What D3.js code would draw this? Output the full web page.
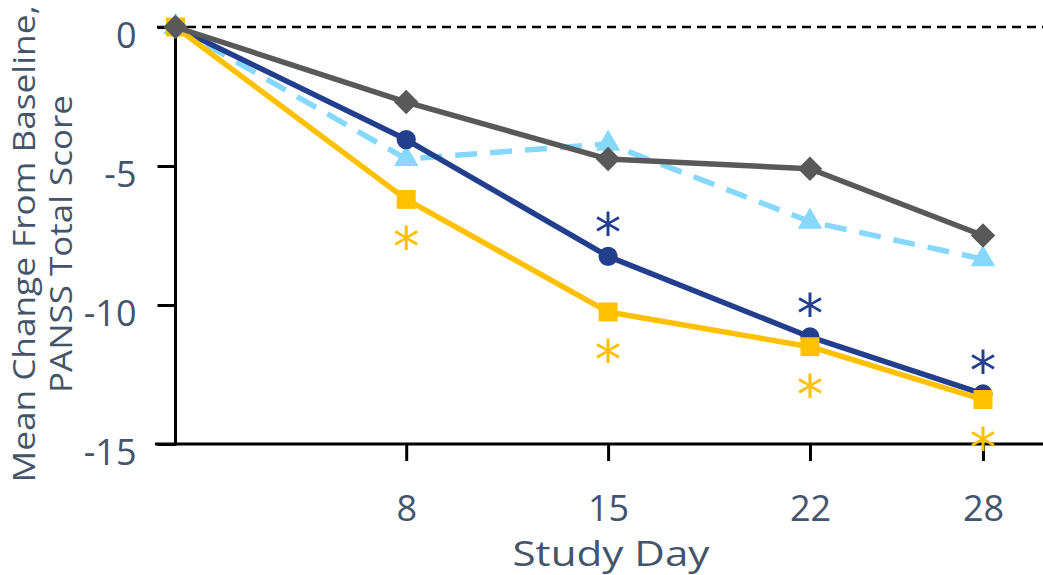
<!DOCTYPE html>
<html>
<head>
<meta charset="utf-8">
<script src="https://cdn.jsdelivr.net/npm/d3@7"></script>
<style>
  html, body { margin: 0; padding: 0; background: #ffffff; }
  svg { display: block; }
  text { font-family: "Open Sans", "DejaVu Sans", sans-serif; fill: #44546a; }
</style>
</head>
<body>
<svg id="chart" width="1043" height="575"></svg>
<script>
// Study days on the x axis and tick settings
const days = [0, 8, 15, 22, 28];
const xTickDays = [8, 15, 22, 28];
const yTickValues = [0, -5, -10, -15];
const yTickLabels = ["0", "-5", "-10", "-15"];

// Mean change from baseline in PANSS total score, one array per arm
const armLightBlue = [0, -4.75, -4.2, -7.0, -8.35];
const armNavy      = [0, -4.05, -8.25, -11.15, -13.2];
const armYellow    = [0, -6.2, -10.25, -11.5, -13.4];
const armGray      = [0, -2.7, -4.75, -5.1, -7.5];

// Significance flags (1 = asterisk shown) per day
const sigNavy   = [0, 0, 1, 1, 1];
const sigYellow = [0, 1, 1, 1, 1];

const xAxisTitle = "Study Day";
const yAxisTitle = ["Mean Change From Baseline,", "PANSS Total Score"];

const svg = d3.select("#chart");

const x = d3.scaleLinear().domain([0, 28]).range([175.5, 983]);
const y = d3.scaleLinear().domain([-15, 0]).range([444, 27]);

const textColor = "#44546a";

// Zero reference line
svg.append("line")
  .attr("x1", 157).attr("x2", 1043)
  .attr("y1", y(0)).attr("y2", y(0))
  .attr("stroke", "#000").attr("stroke-width", 2.5)
  .attr("stroke-dasharray", "9,6");

// Y axis
const yAxis = d3.axisLeft(y)
  .tickValues(yTickValues)
  .tickFormat((d, i) => yTickLabels[i])
  .tickSize(18)
  .tickSizeOuter(0)
  .tickPadding(21);

const gy = svg.append("g")
  .attr("transform", `translate(${x(0)},0)`)
  .call(yAxis);
gy.select(".domain").remove();
gy.selectAll(".tick line").attr("stroke", "#000").attr("stroke-width", 3);
gy.selectAll(".tick text")
  .attr("dy", 20)
  .style("font-size", "36px")
  .style("fill", textColor);
gy.append("line")
  .attr("x1", 0).attr("x2", 0)
  .attr("y1", y(0)).attr("y2", y(-15) + 1.5)
  .attr("stroke", "#000").attr("stroke-width", 3);

// X axis
const xAxis = d3.axisBottom(x)
  .tickValues(xTickDays)
  .tickSize(17)
  .tickSizeOuter(0)
  .tickPadding(33);

const gx = svg.append("g")
  .attr("transform", `translate(0,${y(-15)})`)
  .call(xAxis);
gx.select(".domain").remove();
gx.selectAll(".tick line").attr("stroke", "#000").attr("stroke-width", 3);
gx.selectAll(".tick text")
  .attr("dy", 27)
  .style("font-size", "36px")
  .style("fill", textColor);
gx.append("line")
  .attr("x1", 155).attr("x2", 1043)
  .attr("y1", 0).attr("y2", 0)
  .attr("stroke", "#000").attr("stroke-width", 3);

// Axis titles
svg.append("text")
  .attr("x", 611).attr("y", 566)
  .attr("text-anchor", "middle")
  .attr("textLength", 197).attr("lengthAdjust", "spacingAndGlyphs")
  .style("font-size", "35px")
  .text(xAxisTitle);

const yTitleX = [35, 72];
const yTitleLen = [477, 298];
yAxisTitle.forEach((t, i) => {
  svg.append("text")
    .attr("transform", `translate(${yTitleX[i]},244) rotate(-90)`)
    .attr("text-anchor", "middle")
    .attr("textLength", yTitleLen[i]).attr("lengthAdjust", "spacingAndGlyphs")
    .style("font-size", "31px")
    .text(t);
});

// Series, drawn bottom to top
const series = [
  { values: armLightBlue, color: "#86d8fd", dash: "22,13", symbol: d3.symbolTriangle, size: 260, rot: 0 },
  { values: armNavy,      color: "#213f8d", dash: null,    symbol: d3.symbolCircle,   size: 290, rot: 0 },
  { values: armYellow,    color: "#ffc000", dash: null,    symbol: d3.symbolSquare,   size: 360, rot: 0 },
  { values: armGray,      color: "#595959", dash: null,    symbol: d3.symbolSquare,   size: 300, rot: 45 }
];

const line = d3.line()
  .x((d, i) => x(days[i]))
  .y(d => y(d));

series.forEach(s => {
  const g = svg.append("g");
  g.append("path")
    .datum(s.values)
    .attr("d", line)
    .attr("fill", "none")
    .attr("stroke", s.color)
    .attr("stroke-width", 5.5)
    .attr("stroke-linejoin", "round")
    .attr("stroke-dasharray", s.dash);
  g.selectAll("path.marker")
    .data(s.values)
    .join("path")
    .attr("class", "marker")
    .attr("transform", (d, i) => `translate(${x(days[i])},${y(d)}) rotate(${s.rot})`)
    .attr("d", d3.symbol().type(s.symbol).size(s.size))
    .attr("fill", s.color);
});

// Significance asterisks: navy above its points, yellow below
function drawStars(values, flags, color, offset) {
  svg.append("g").selectAll("text")
    .data(values.map((v, i) => ({ v, i })).filter(d => flags[d.i]))
    .join("text")
    .attr("x", d => x(days[d.i]))
    .attr("y", d => y(d.v) + offset)
    .attr("text-anchor", "middle")
    .style("font-family", "DejaVu Sans")
    .style("font-size", "53px")
    .style("fill", color)
    .text("*");
}
drawStars(armNavy, sigNavy, "#213f8d", -5);
drawStars(armYellow, sigYellow, "#ffc000", 66);
</script>
</body>
</html>
